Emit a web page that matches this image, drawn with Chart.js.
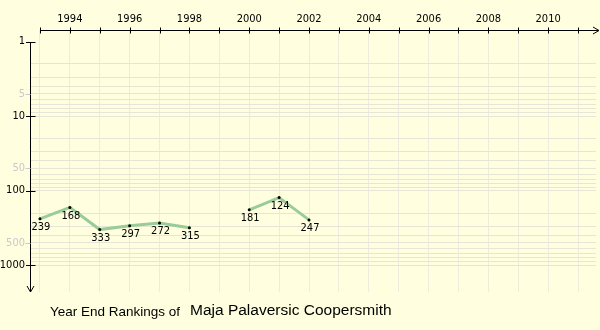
<!DOCTYPE html>
<html>
  <head>
    <meta charset="utf-8" />
    <title>Year End Rankings</title>
    <style>
      body { margin: 0; background: #ffffe0; }
      .wrap { position: relative; width: 600px; height: 330px; }
      .t1 { position: absolute; left: 50px; top: 305px; font: 13.5px "Liberation Sans", Arial, sans-serif; line-height: 13px; color: #000; white-space: nowrap; }
      .t2 { position: absolute; left: 190px; top: 302px; font: 15.5px "Liberation Sans", Arial, sans-serif; line-height: 16px; color: #000; white-space: nowrap; }
    </style>
  </head>
  <body>
    <div class="wrap">
      <canvas id="rankChart" width="600" height="330"></canvas>
      <span class="t1">Year End Rankings of</span>
      <span class="t2">Maja Palaversic Coopersmith</span>
    </div>

    <script src="https://cdn.jsdelivr.net/npm/chart.js@4/dist/chart.umd.min.js"></script>
    <script>
      // data
      const years = [1993, 1994, 1995, 1996, 1997, 1998, 1999, 2000, 2001, 2002];
      const ranks = [239, 168, 333, 297, 272, 315, null, 181, 124, 247];

      // axis ticks
      const xTicks = [1993, 1994, 1995, 1996, 1997, 1998, 1999, 2000, 2001, 2002,
                      2003, 2004, 2005, 2006, 2007, 2008, 2009, 2010, 2011];
      const yTicks = [1, 2, 3, 4, 5, 6, 7, 8, 9,
                      10, 20, 30, 40, 50, 60, 70, 80, 90,
                      100, 200, 300, 400, 500, 600, 700, 800, 900, 1000];
      const yLabels = [1, 5, 10, 50, 100, 500, 1000];
      const yMajor = [1, 10, 100, 1000];

      const font = { family: "'DejaVu Sans Condensed', 'DejaVu Sans'", size: 11 };

      // axis lines, arrows and tick marks
      const axesPlugin = {
        id: "axes",
        afterDraw(chart) {
          const { ctx, chartArea, scales } = chart;
          const x = scales.x, y = scales.y;
          const ax = chartArea.left + 0.5;
          const ay = chartArea.top + 0.5;
          ctx.save();
          ctx.strokeStyle = "#000";
          ctx.lineWidth = 1;
          ctx.beginPath();
          // y axis
          ctx.moveTo(ax, Math.round(y.getPixelForValue(1)));
          ctx.lineTo(ax, 292);
          ctx.moveTo(ax - 3.5, 286);
          ctx.lineTo(ax, 292);
          ctx.lineTo(ax + 3.5, 286);
          // x axis
          ctx.moveTo(Math.round(x.getPixelForValue(xTicks[0])), ay);
          ctx.lineTo(598, ay);
          ctx.moveTo(593, ay - 3.5);
          ctx.lineTo(599, ay);
          ctx.lineTo(593, ay + 3.5);
          xTicks.forEach(v => {
            const px = Math.round(x.getPixelForValue(v)) + 0.5;
            ctx.moveTo(px, ay - 3);
            ctx.lineTo(px, ay + 3);
          });
          yMajor.forEach(v => {
            const py = Math.round(y.getPixelForValue(v)) + 0.5;
            ctx.moveTo(ax - 4.5, py);
            ctx.lineTo(ax + 5, py);
          });
          ctx.stroke();
          ctx.strokeStyle = "#cccccc";
          ctx.beginPath();
          [5, 50, 500].forEach(v => {
            const py = Math.round(y.getPixelForValue(v)) + 0.5;
            ctx.moveTo(ax - 5, py);
            ctx.lineTo(ax, py);
          });
          ctx.stroke();
          ctx.restore();
        },
        afterDatasetsDraw(chart) {
          const { ctx } = chart;
          const meta = chart.getDatasetMeta(0);
          ctx.save();
          ctx.font = "11px 'DejaVu Sans Condensed', 'DejaVu Sans'";
          ctx.fillStyle = "#000";
          ctx.textAlign = "center";
          ctx.textBaseline = "top";
          meta.data.forEach((pt, i) => {
            if (ranks[i] === null) return;
            ctx.fillText(String(ranks[i]), pt.x + 1, pt.y + 3);
          });
          ctx.restore();
        }
      };

      const ctx = document.getElementById("rankChart").getContext("2d");
      const rankChart = new Chart(ctx, {
        type: "line",
        data: {
          datasets: [
            {
              data: years.map((yr, i) => ({ x: yr, y: ranks[i] })),
              borderColor: "#99cc99",
              borderWidth: 3,
              pointRadius: 1.5,
              pointBackgroundColor: "#000",
              pointBorderWidth: 0,
              spanGaps: false,
              tension: 0
            }
          ]
        },
        options: {
          responsive: false,
          animation: false,
          layout: { padding: { left: 0, top: 0, right: 2, bottom: 38 } },
          plugins: { legend: { display: false }, tooltip: { enabled: false } },
          scales: {
            x: {
              type: "linear",
              position: "top",
              min: 1992.667,
              max: 2011.6,
              afterBuildTicks: s => { s.ticks = xTicks.map(v => ({ value: v })); },
              afterFit: s => { s.height = 30; },
              border: { display: false },
              grid: { color: "#ececdf", drawTicks: false },
              ticks: {
                autoSkip: false,
                maxRotation: 0,
                padding: 4,
                font: font,
                color: "#000",
                callback: v => (v % 2 === 0 ? String(v) : "")
              }
            },
            y: {
              type: "logarithmic",
              reverse: true,
              min: 0.7356,
              max: 2291,
              afterBuildTicks: s => { s.ticks = yTicks.map(v => ({ value: v })); },
              afterFit: s => { s.width = 30; },
              border: { display: false },
              grid: {
                drawTicks: false,
                color: c => (c.tick && c.tick.value === 1 ? "rgba(0,0,0,0)" : "#e6e6d6")
              },
              ticks: {
                autoSkip: false,
                padding: 5,
                font: font,
                color: c => (yMajor.includes(c.tick.value) ? "#000" : "#c8c8c8"),
                callback: v => (yLabels.includes(v) ? String(v) : "")
              }
            }
          }
        },
        plugins: [axesPlugin]
      });
    </script>
  </body>
</html>
